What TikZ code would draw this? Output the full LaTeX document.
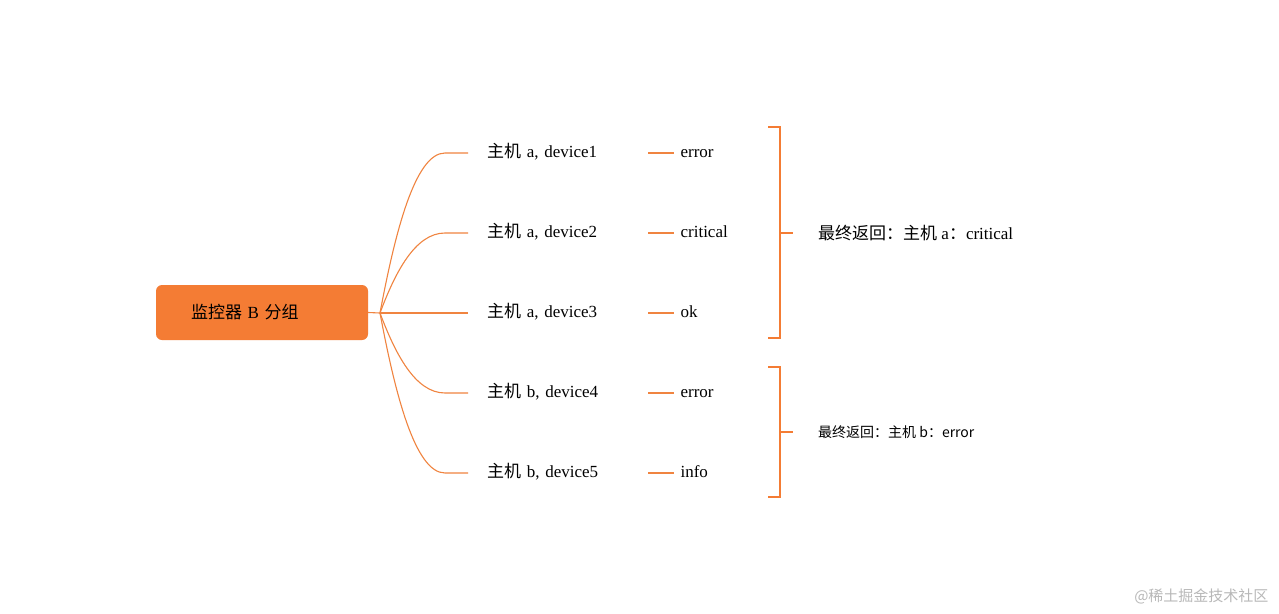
\documentclass[tikz,border=0pt]{standalone}
\usepackage{fontspec}
\setmainfont{Liberation Serif}
\newfontfamily\cjk{Noto Sans CJK SC}
\usepackage{xcolor}
\usetikzlibrary{positioning}
\definecolor{mindorange}{HTML}{F47C34}
\definecolor{lineorange}{HTML}{F08440}
\definecolor{markgray}{HTML}{B8B8B8}

\begin{document}
\begin{tikzpicture}[
        x=1pt, y=-1pt,
        font=\fontsize{17}{20}\selectfont,
        rootbox/.style={rectangle, rounded corners=6pt, fill=mindorange, minimum width=212pt, minimum height=55pt, inner xsep=35pt, text width=142pt, align=left},
        hostnode/.style={anchor=west, inner xsep=19pt, inner ysep=0pt, text width=142pt, align=left, text height=13pt, text depth=4pt},
        statenode/.style={inner xsep=6pt, inner ysep=0pt, text height=13pt, text depth=4pt},
        result/.style={anchor=west, inner xsep=25pt, inner ysep=0pt},
        branch/.style={draw=lineorange, line width=1.1pt},
        bracket/.style={draw=mindorange, line width=2pt}
    ]

        % ===== 画布 =====
        \fill[white] (0,0) rectangle (1279,613);
        \useasboundingbox (0,0) rectangle (1279,613);

        % ===== 根节点 =====
        \node (root) [rootbox] at (262,312.5) {{\cjk 监控器} B {\cjk 分组}};
        \coordinate (fork) at (380,313);

        % ===== 主机与设备 =====
        \node (c1) [hostnode] at (468,153) {{\cjk 主机} a, device1};
        \node (c2) [hostnode] at (468,233) {{\cjk 主机} a, device2};
        \node (c3) [hostnode] at (468,313) {{\cjk 主机} a, device3};
        \node (c4) [hostnode] at (468,393) {{\cjk 主机} b, device4};
        \node (c5) [hostnode] at (468,473) {{\cjk 主机} b, device5};

        % ===== 状态 =====
        \node (v1) [statenode, right=26pt of c1] {error};
        \node (v2) [statenode, right=26pt of c2] {critical};
        \node (v3) [statenode, right=26pt of c3] {ok};
        \node (v4) [statenode, right=26pt of c4] {error};
        \node (v5) [statenode, right=26pt of c5] {info};

        % ===== 最终返回 =====
        \node (res1) [result] at (793,233) {{\cjk 最终返回：主机} a{\cjk ：}critical};
        \node (res2) [result, font=\cjk\fontsize{14}{17}\selectfont] at (793,432) {最终返回：主机 b：error};

        % ===== 连线 =====
        \draw [branch] (root.east) -- (fork);
        \foreach \i/\y in {1/153, 2/233, 3/313, 4/393, 5/473}
            \draw [branch] (fork) .. controls +(15,{(\y-313)/2}) and (415,\y) .. (445,\y) -- (c\i.west);
        \foreach \i in {1,...,5}
            \draw [branch] (c\i.east) -- (v\i.west);

        % 括号
        \draw [bracket] (768,127) -| (780,338) -- (768,338);
        \draw [bracket] (780,233) -- (res1.west);
        \draw [bracket] (768,367) -| (780,497) -- (768,497);
        \draw [bracket] (780,432) -- (res2.west);

        % 水印
        \node (mark) [anchor=east, text=markgray, font=\cjk\fontsize{15}{18}\selectfont] at (1272,596) {@稀土掘金技术社区};

    \end{tikzpicture}
\end{document}
